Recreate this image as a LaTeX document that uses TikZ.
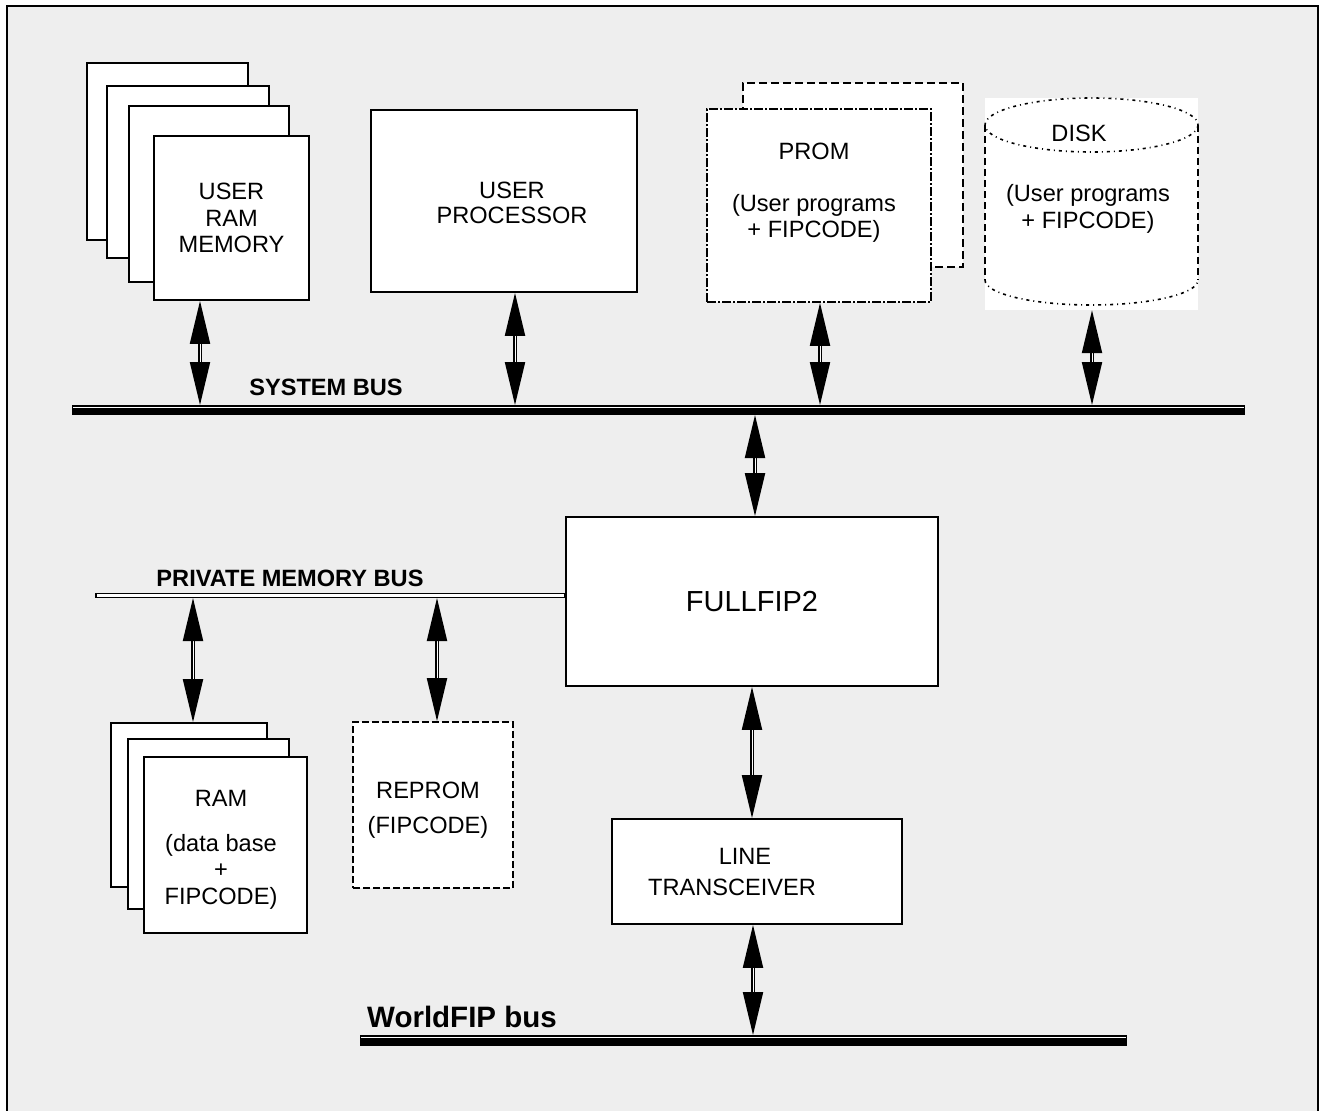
\documentclass[tikz,border=0pt]{standalone}
\usepackage{fontspec}
\setmainfont{Liberation Sans}
\usetikzlibrary{arrows.meta}
\definecolor{bggray}{RGB}{238,238,238}

\begin{document}
\begin{tikzpicture}[x=1pt,y=-1pt,
    box/.style={draw,fill=white,line width=1.8pt,inner sep=0pt},
    txt/.style={font=\fontsize{23.6}{26.5}\selectfont,align=center,inner sep=0pt},
    lbl/.style={font=\bfseries\fontsize{23.6}{26.5}\selectfont,inner sep=0pt},
    diskline/.style={line width=1.6pt,dash pattern=on 7pt off 4pt},
    diskdot/.style={line width=1.6pt,dash pattern=on 3pt off 4pt on 1pt off 4pt},
    biarrow/.style={double,line width=2pt,double distance=0.9pt,
        {Triangle[length=43pt,width=20pt]}-{Triangle[length=43pt,width=20pt]}}]

    \useasboundingbox (0,0) rectangle (1321,1110);
    \clip (0,0) rectangle (1321,1110);
    \fill[bggray] (7,6) rectangle (1318,1130);
    \draw[line width=2pt] (7,1130) -- (7,6) -- (1318,6) -- (1318,1130);

    % user ram stack
    \node[box,minimum width=161pt,minimum height=177pt] (URAM1) at (167.5,151.5) {};
    \node[box,minimum width=162pt,minimum height=172pt] (URAM2) at (188,172) {};
    \node[box,minimum width=160pt,minimum height=176pt] (URAM3) at (209,194) {};
    \node[box,txt,minimum width=155pt,minimum height=164pt] (URAM4) at (231.5,218) {USER\\RAM\\MEMORY};

    % processor
    \node[box,minimum width=266pt,minimum height=182pt] (PROC) at (504,201) {};
    \node[txt,font=\fontsize{23.6}{24.5}\selectfont] (PROCtxt) at (512,203) {USER\\PROCESSOR};

    % prom
    \node[box,dash pattern=on 8pt off 4pt,minimum width=220pt,minimum height=184pt] (PROMb) at (853,175) {};
    \node[box,dash pattern=on 9pt off 2pt on 2pt off 2pt,minimum width=224pt,minimum height=193pt] (PROM) at (819,205.5) {};
    \node[txt] (PROMtxt) at (814,192.5) {PROM\\[25.5pt](User programs\\+ FIPCODE)};

    % disk
    \node[fill=white,minimum width=213pt,minimum height=212pt,inner sep=0pt] (DISK) at (1091.5,204) {};
    \draw[diskline] (985,125) -- (985,280) (1198,125) -- (1198,280);
    \draw[diskdot] (1091.5,125) ellipse [x radius=106.5,y radius=27];
    \draw[diskdot] (985,280) arc [start angle=180,end angle=0,x radius=106.5,y radius=25];
    \node[txt] (DISKlbl) at (1079,133) {DISK};
    \node[txt] (DISKtxt) at (1088,209) {(User programs\\+ FIPCODE)};

    % system bus
    \fill (72,405) rectangle (1245,415);
    \draw[white,line width=1pt] (73,407) -- (1244,407);
    \node[lbl] (SBUS) at (326,387) {SYSTEM BUS};
    \coordinate (S1) at (200,405);
    \coordinate (S2) at (515,405);
    \coordinate (S3) at (820,405);
    \coordinate (S4) at (1092,405);
    \coordinate (S5) at (755,415);

    \draw[biarrow] (URAM4.south -| S1) -- (S1);
    \draw[biarrow] (PROC.south -| S2) -- (S2);
    \draw[biarrow] (PROM.south -| S3) -- (S3);
    \draw[biarrow] (DISK.south -| S4) -- (S4);

    % fullfip2
    \node[box,minimum width=372pt,minimum height=169pt,font=\fontsize{29}{32}\selectfont] (FIP) at (752,601.5) {FULLFIP2};
    \draw[biarrow] (S5) -- (S5 |- FIP.north);

    % private memory bus
    \draw[line width=1.5pt,fill=white] (96,593.5) rectangle (FIP.west |- 0,597.5);
    \node[lbl] (PBUS) at (290,578) {PRIVATE MEMORY BUS};
    \coordinate (P1) at (193,598);
    \coordinate (P2) at (437,598);

    % ram stack
    \node[box,minimum width=156pt,minimum height=164pt] (RAM1) at (189,805) {};
    \node[box,minimum width=161pt,minimum height=170pt] (RAM2) at (208.5,824) {};
    \node[box,minimum width=163pt,minimum height=176pt] (RAM3) at (225.5,845) {};
    \node[txt] (RAMtxt) at (221,849.5) {RAM\\[18.5pt](data base\\+\\FIPCODE)};

    % reprom
    \node[box,dash pattern=on 7pt off 3pt,minimum width=160pt,minimum height=166pt] (REPROM) at (433,805) {};
    \node[txt] (REPROMtxt) at (428,810) {REPROM\\[8.5pt](FIPCODE)};

    \draw[biarrow] (P1) -- (P1 |- RAM1.north);
    \draw[biarrow] (P2) -- (P2 |- REPROM.north);

    % line transceiver
    \node[box,minimum width=290pt,minimum height=105pt] (LT) at (757,871.5) {};
    \node[txt] (LTtxt) at (732,871.5) {\hspace*{26pt}LINE\\[4.5pt]TRANSCEIVER};
    \draw[biarrow] (FIP.south) -- (FIP.south |- LT.north);

    % worldfip bus
    \fill (360,1035) rectangle (1127,1046);
    \draw[white,line width=1pt] (361,1037.5) -- (1126,1037.5);
    \node[lbl,font=\bfseries\fontsize{29.5}{32}\selectfont,anchor=west] (WBUS) at (367,1017) {WorldFIP bus};
    \coordinate (W1) at (753,1035);
    \draw[biarrow] (LT.south -| W1) -- (W1);
\end{tikzpicture}
\end{document}
